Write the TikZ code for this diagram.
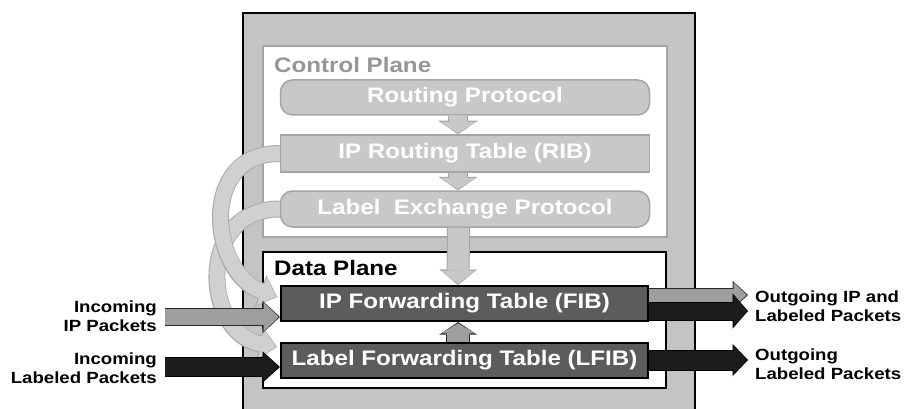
\documentclass[tikz,border=0pt]{standalone}
\usepackage{fontspec}
\setmainfont{Liberation Sans}
\newfontfamily\wfont[FakeStretch=1.15]{Liberation Sans}
\usetikzlibrary{arrows.meta}
\definecolor{outerg}{RGB}{196,196,196}
\definecolor{cpfill}{RGB}{200,200,200}
\definecolor{cpline}{RGB}{165,165,165}
\definecolor{cptext}{RGB}{150,150,150}
\definecolor{dpfill}{RGB}{92,92,92}
\definecolor{midg}{RGB}{158,158,158}
\definecolor{darkb}{RGB}{40,40,40}
\definecolor{blk}{RGB}{28,28,28}
\definecolor{bandf}{RGB}{208,208,208}
\definecolor{bandl}{RGB}{170,170,170}
\newcommand\blockarr[6]{%
  \pgfmathsetmacro\bsw{#3+2}\pgfmathsetmacro\bhw{#4+3.5}\pgfmathsetmacro\bhl{#5+2.5}%
  \draw[draw=#2, line width=\bsw pt, -{Triangle[width=\bhw pt, length=\bhl pt, line width=0pt]}] #6;
  \draw[draw=#1, line width=#3pt, shorten >=1.3pt, -{Triangle[width=#4pt, length=#5pt, line width=0pt]}] #6;
}
\tikzset{
  cpbox/.style={draw=cpline, fill=cpfill, line width=1.5pt, minimum width=369pt, text=white,
    font=\wfont\bfseries\fontsize{21}{24}\selectfont, inner sep=0pt},
  dpbox/.style={draw=black, fill=dpfill, line width=2pt, minimum width=367pt, minimum height=35pt,
    text=white, font=\wfont\bfseries\fontsize{21}{24}\selectfont, inner sep=0pt},
  lbl/.style={font=\wfont\bfseries\fontsize{16.2}{18.5}\selectfont, inner sep=0pt},
  title/.style={font=\wfont\bfseries\fontsize{21}{23}\selectfont, inner sep=0pt, anchor=west}
}
\begin{document}
\begin{tikzpicture}[x=1pt, y=-1pt]
\useasboundingbox (0,0) rectangle (907,409);
\fill[white] (0,0) rectangle (907,409);
% outer router box
\fill[outerg] (243,13) rectangle (695,409);
\draw[black, line width=2pt] (243,409) -- (243,13) -- (695,13) -- (695,409);
% control plane
\draw[cpline, fill=white, line width=1.8pt] (263,46) rectangle (667,237);
\node[title, text=cptext] (cpt) at (274,65) {Control Plane};
\node[cpbox, rounded corners=12pt, minimum height=35pt] (rp) at (465,97.5) {Routing Protocol};
\node[cpbox, minimum height=37pt] (rib) at (465,153.5) {IP Routing Table (RIB)};
\node[cpbox, rounded corners=12pt, minimum height=36pt] (lep) at (465,209) {Label\ \ Exchange Protocol};
\blockarr{cpfill}{cpline}{18}{36}{11}{([xshift=-7pt]rp.south) -- ([xshift=-7pt]rib.north)}
\blockarr{cpfill}{cpline}{18}{36}{11}{([xshift=-7pt]rib.south) -- ([xshift=-7pt]lep.north)}
% data plane
\draw[black, fill=white, line width=2pt] (263,252) rectangle (666,388);
\node[title, text=black] (dpt) at (274,268) {Data Plane};
\node[dpbox] (fib) at (464.5,303.5) {IP Forwarding Table (FIB)};
\node[dpbox] (lfib) at (464.5,360.5) {Label Forwarding Table (LFIB)};
\blockarr{cpfill}{cpline}{21}{34}{13}{([xshift=-6.5pt]lep.south) -- ([xshift=-6.5pt]fib.north)}
\blockarr{midg}{darkb}{22}{34}{10}{([xshift=-6.5pt]lfib.north) -- ([xshift=-6.5pt]fib.south)}
% curved bands
\coordinate (fibin) at (277,297);
\coordinate (lfibin) at (277,347);
\blockarr{bandf}{bandl}{15}{30}{15}{(lep.west) .. controls (196,209) and (203,333) .. (lfibin)}
\blockarr{bandf}{bandl}{15}{30}{15}{(rib.west) .. controls (198,153) and (210,272) .. (fibin)}
% incoming
\coordinate (inip) at (165,317);
\coordinate (inlab) at (165,367);
\blockarr{midg}{darkb}{16}{29}{15}{(inip) -- (inip -| fib.west)}
\blockarr{blk}{black}{18}{28}{15}{(inlab) -- (inlab -| lfib.west)}
% outgoing
\coordinate (outip) at (748,295);
\coordinate (outlab1) at (748,311);
\coordinate (outlab2) at (748,360);
\blockarr{midg}{darkb}{13}{25}{13}{(outip -| fib.east) -- (outip)}
\blockarr{blk}{black}{17}{32}{13}{(outlab1 -| fib.east) -- (outlab1)}
\blockarr{blk}{black}{19}{29}{13}{(outlab2 -| lfib.east) -- (outlab2)}
% labels
\node[lbl, align=right, anchor=east] (tinip) at (157,316) {Incoming\\IP Packets};
\node[lbl, align=right, anchor=east] (tinlab) at (157,368) {Incoming\\Labeled Packets};
\node[lbl, align=left, anchor=west] (toutip) at (755,306) {Outgoing IP and\\Labeled Packets};
\node[lbl, align=left, anchor=west] (toutlab) at (755,364) {Outgoing\\Labeled Packets};
\end{tikzpicture}
\end{document}
